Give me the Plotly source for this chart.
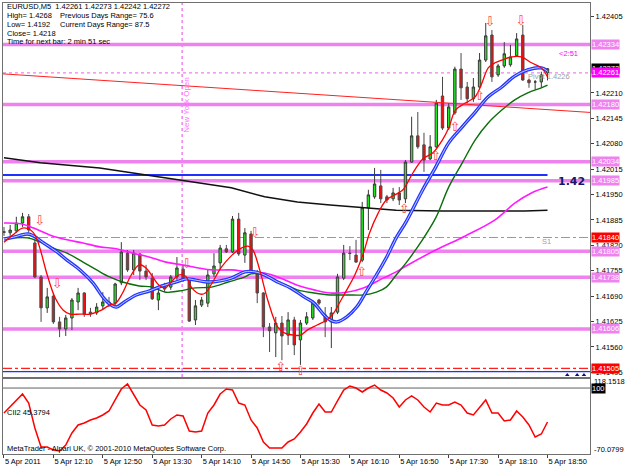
import plotly.graph_objects as go

# ---------------- data ----------------
bar_idx = list(range(89))
opens = [1.41855,1.41852,1.41857,1.41877,1.41893,1.41826,1.41739,1.41660,1.41690,1.41624,
         1.41606,1.41634,1.41675,1.41698,1.41649,1.41647,1.41665,1.41675,1.41672,1.41724,
         1.41800,1.41757,1.41798,1.41754,1.41736,1.41680,1.41716,1.41713,1.41739,1.41759,
         1.41731,1.41629,1.41667,1.41672,1.41747,1.41775,1.41811,1.41803,1.41887,1.41795,
         1.41849,1.41749,1.41698,1.41611,1.41596,1.41621,1.41590,1.41629,1.41578,1.41621,
         1.41634,1.41680,1.41642,1.41624,1.41649,1.41736,1.41800,1.41795,1.41782,1.41916,
         1.41944,1.41972,1.41944,1.41939,1.41954,1.41939,1.42033,1.42100,1.42077,1.42041,
         1.42072,1.42202,1.42120,1.42159,1.42271,1.42225,1.42195,1.42225,1.42294,1.42358,
         1.42256,1.42279,1.42282,1.42305,1.42358,1.42243,1.42238,1.42238,1.42261]
highs = [1.41867,1.41872,1.41893,1.41903,1.41900,1.41834,1.41744,1.41711,1.41698,1.41637,
         1.41642,1.41685,1.41711,1.41700,1.41660,1.41672,1.41700,1.41688,1.41724,1.41828,
         1.41808,1.41808,1.41800,1.41770,1.41749,1.41713,1.41724,1.41744,1.41790,1.41770,
         1.41734,1.41680,1.41688,1.41757,1.41800,1.41821,1.41821,1.41895,1.41903,1.41864,
         1.41857,1.41757,1.41700,1.41621,1.41637,1.41639,1.41649,1.41637,1.41629,1.41649,
         1.41680,1.41683,1.41662,1.41662,1.41747,1.41821,1.41818,1.41834,1.41931,1.41962,
         1.42018,1.42013,1.41949,1.41967,1.41969,1.42038,1.42149,1.42161,1.42108,1.42102,
         1.42192,1.42251,1.42184,1.42277,1.42312,1.42238,1.42248,1.42312,1.42389,1.42371,
         1.42284,1.42340,1.42333,1.42363,1.42384,1.42246,1.42243,1.42264,1.42273]
lows = [1.41844,1.41844,1.41852,1.41867,1.41852,1.41736,1.41624,1.41647,1.41619,1.41585,
        1.41588,1.41603,1.41654,1.41637,1.41637,1.41642,1.41654,1.41662,1.41662,1.41718,
        1.41752,1.41744,1.41731,1.41731,1.41680,1.41654,1.41700,1.41706,1.41731,1.41726,
        1.41624,1.41616,1.41662,1.41662,1.41739,1.41757,1.41800,1.41800,1.41793,1.41775,
        1.41749,1.41672,1.41585,1.41547,1.41534,1.41526,1.41565,1.41539,1.41514,1.41616,
        1.41629,1.41667,1.41585,1.41557,1.41644,1.41731,1.41782,1.41775,1.41777,1.41859,
        1.41939,1.41928,1.41928,1.41933,1.41923,1.41928,1.42031,1.42067,1.42008,1.42038,
        1.42069,1.42115,1.42115,1.42154,1.42192,1.42184,1.42187,1.42220,1.42289,1.42238,
        1.42251,1.42274,1.42277,1.42302,1.42241,1.42223,1.42218,1.42223,1.42242]
closes = [1.41853,1.41859,1.41877,1.41893,1.41859,1.41739,1.41660,1.41688,1.41624,1.41606,
          1.41634,1.41680,1.41698,1.41644,1.41644,1.41662,1.41675,1.41670,1.41721,1.41803,
          1.41757,1.41800,1.41754,1.41739,1.41683,1.41698,1.41708,1.41739,1.41762,1.41731,
          1.41626,1.41665,1.41680,1.41744,1.41767,1.41813,1.41803,1.41887,1.41798,1.41852,
          1.41752,1.41698,1.41611,1.41601,1.41621,1.41588,1.41629,1.41565,1.41621,1.41637,
          1.41672,1.41672,1.41624,1.41647,1.41739,1.41800,1.41799,1.41777,1.41916,1.41949,
          1.41977,1.41939,1.41936,1.41954,1.41936,1.42033,1.42100,1.42072,1.42038,1.42072,
          1.42184,1.42120,1.42174,1.42271,1.42223,1.42195,1.42225,1.42294,1.42356,1.42251,
          1.42279,1.42310,1.42302,1.42348,1.42243,1.42236,1.42238,1.42256,1.42272]

# fast (red) moving average
red_x = [0,1.4,3.0,4.3,5.1,5.9,7.0,8.3,9.6,10.7,12.3,13.9,15.5,17.1,18.1,19.2,20.6,21.9,23.0,24.0,
         25.1,26.1,27.0,28.3,29.4,30.4,31.8,32.6,33.6,35.2,36.8,38.2,39.5,40.3,41.4,42.7,44.3,45.4,
         47.0,48.0,49.1,50.7,52.3,53.4,54.4,55.5,56.8,58.2,59.2,60.6,61.9,63.5,64.6,66.2,67.8,69.4,
         71.0,72.0,73.1,74.7,76.3,77.4,78.4,79.5,80.6,82.2,83.8,85.4,87.0,88.0]
red_y = [1.41828,1.41846,1.41864,1.41859,1.41844,1.41808,1.41744,1.41685,1.41654,1.41644,1.41644,
         1.41644,1.41652,1.41667,1.41672,1.41698,1.41744,1.41770,1.41762,1.41741,1.41718,1.41711,
         1.41724,1.41744,1.41741,1.41711,1.41695,1.41698,1.41721,1.41764,1.41793,1.41811,1.41818,
         1.41808,1.41757,1.41680,1.41611,1.41596,1.41590,1.41590,1.41603,1.41616,1.41629,1.41647,
         1.41675,1.41706,1.41744,1.41800,1.41852,1.41903,1.41936,1.41951,1.41962,1.42005,1.42041,
         1.42056,1.42090,1.42120,1.42166,1.42184,1.42200,1.42236,1.42274,1.42287,1.42294,1.42302,
         1.42302,1.42287,1.42274,1.42251]

# blue moving average (drawn as double line)
blue_x = [0,1.6,3.8,4.8,6.4,8.6,10.2,12.3,14.4,16.0,17.1,18.2,19.5,21.4,23.5,25.6,27.8,29.6,31.0,
          33.1,35.0,36.8,39.0,40.6,42.2,44.3,46.4,48.6,50.2,51.8,52.8,53.9,55.5,57.1,58.7,60.3,61.9,
          63.5,65.1,67.8,69.9,72.0,74.2,76.3,78.4,80.6,82.7,84.8,87.0,88.0]
blue_y = [1.41836,1.41841,1.41849,1.41844,1.41826,1.41803,1.41782,1.41757,1.41724,1.41688,1.41670,
          1.41662,1.41675,1.41693,1.41703,1.41716,1.41726,1.41734,1.41731,1.41726,1.41729,1.41736,
          1.41752,1.41752,1.41744,1.41726,1.41711,1.41688,1.41672,1.41642,1.41629,1.41624,1.41637,
          1.41662,1.41703,1.41744,1.41788,1.41839,1.41880,1.41962,1.42020,1.42082,1.42123,1.42161,
          1.42200,1.42225,1.42253,1.42269,1.42274,1.42266]

# dark green moving average
green_x = [0,3.8,5.9,8.0,10.2,12.8,15.0,17.1,19.2,21.9,24.0,26.2,28.3,31.0,33.6,36.3,39.0,40.0,42.2,
           44.8,47.5,50.2,52.8,55.5,58.2,60.3,61.9,63.5,65.1,67.5,69.9,72.0,74.2,76.3,78.4,80.6,82.7,
           84.8,87.0,88.0]
green_y = [1.41836,1.41839,1.41828,1.41813,1.41800,1.41777,1.41757,1.41739,1.41726,1.41716,1.41713,
           1.41700,1.41703,1.41711,1.41713,1.41726,1.41739,1.41747,1.41744,1.41724,1.41706,1.41698,
           1.41693,1.41693,1.41693,1.41700,1.41713,1.41744,1.41775,1.41828,1.41890,1.41969,1.42031,
           1.42090,1.42133,1.42166,1.42192,1.42210,1.42223,1.42230]

# magenta moving average
mag_x = [0,2.7,4.8,7.5,10.2,12.8,15.5,18.2,20.8,23.5,26.2,28.8,31.5,33.6,36.8,39.5,42.2,44.8,47.5,
         50.2,52.8,55.5,58.2,61.4,63.5,65.1,69.9,74.7,79.5,82.7,85.4,88.0]
mag_y = [1.41877,1.41875,1.41864,1.41846,1.41834,1.41826,1.41816,1.41811,1.41800,1.41790,1.41777,
         1.41770,1.41762,1.41757,1.41757,1.41752,1.41749,1.41736,1.41718,1.41706,1.41698,1.41700,
         1.41711,1.41736,1.41752,1.41767,1.41808,1.41844,1.41885,1.41928,1.41954,1.41969]

# black (slow) moving average
black_x = [0,5.9,15.5,26.2,31.5,36.8,42.2,47.5,52.8,58.2,63.5,71.0,84.3,88.0]
black_y = [1.42044,1.42031,1.42018,1.41992,1.41980,1.41967,1.41944,1.41931,1.41923,1.41916,1.41910,
           1.41908,1.41908,1.41910]

# red trend line
trend_x = [-0.5, 94.9]
trend_y = [1.42259, 1.42160]

# fractal arrows
down_arrow_x = [5.8, 8.6, 29.6, 40.6, 78.7, 83.7]
down_arrow_y = [1.41880, 1.41718, 1.41770, 1.41849, 1.42389, 1.42392]
up_arrow_x = [44.8, 48.0, 57.9, 64.8, 69.9, 73.0, 77.0]
up_arrow_y = [1.41506, 1.41496, 1.41749, 1.41910, 1.42046, 1.42120, 1.42200]

# small markers at the bottom right
tri_x = [91.2, 92.8, 93.9]
tri_y = [1.41488, 1.41488, 1.41488]

# horizontal levels
pivot_levels = [1.42334, 1.42180, 1.42034, 1.41985, 1.41805, 1.41738, 1.41606]
round_level = 1.42000
s1_level = 1.41840
bottom_red_level = 1.41505
bottom_blue_level = 1.41497
bid_level = 1.42261
last_price = 1.42272
ny_open_idx = 28.85

# CCI indicator
cci = [35.6,51.1,69.2,84.6,61.4,-3.0,-52.0,-52.0,-59.8,-62.3,-46.9,-15.9,4.7,9.9,17.6,22.8,30.5,40.8,
       69.2,97.5,110.4,84.6,56.3,43.4,4.7,2.1,4.7,20.2,30.5,27.9,-10.8,-13.4,-10.8,35.6,56.3,84.6,97.5,
       94.9,61.4,56.3,17.6,-3.0,-39.1,-54.6,-54.6,-54.6,-39.1,-31.4,-13.4,7.3,35.6,58.8,38.2,38.2,66.6,
       94.9,105.3,100.1,89.8,100.1,107.8,94.9,87.2,74.3,51.1,69.2,79.5,69.2,51.1,38.2,61.4,56.3,56.3,
       64.0,56.3,35.6,30.5,48.5,69.2,35.6,35.6,15.0,17.6,40.8,25.3,4.7,-26.2,-18.5,12.4]
cci_max = 118.1518
cci_min = -70.0799
cci_level = 100

x_tick_idx = [0, 8, 16, 24, 32, 40, 48, 56, 64, 72, 80, 88]
x_tick_text = ["5 Apr 2011", "5 Apr 12:10", "5 Apr 12:50", "5 Apr 13:30", "5 Apr 14:10",
               "5 Apr 14:50", "5 Apr 15:30", "5 Apr 16:10", "5 Apr 16:50", "5 Apr 17:30",
               "5 Apr 18:10", "5 Apr 18:50"]
# visible scale ticks (1.42275 and 1.42340 are hidden behind price labels)
price_ticks = [1.41495, 1.41560, 1.41625, 1.41690, 1.41755, 1.41820, 1.41885, 1.41950,
               1.42015, 1.42080, 1.42145, 1.42210, 1.42405]

info_lines = ["EURUSD,M5  1.42261 1.42273 1.42242 1.42272",
              "High= 1.4268", "Low= 1.4192", "Close= 1.4218",
              "Time for next bar: 2 min 51 sec"]
info_right = ["Previous Days Range= 75.6", "Current Days Range= 87.5"]

# ---------------- figure ----------------
FONT = "Liberation Sans"
W, H = 625, 469
ML, MR, MT, MB = 2, 29, 3, 15
ph = H - MT - MB


def py(pix):
    return (H - MB - pix) / ph


def px(pix):
    return (pix - ML) / (W - ML - MR)


fig = go.Figure()

fig.add_trace(go.Candlestick(
    x=bar_idx, open=opens, high=highs, low=lows, close=closes,
    increasing=dict(fillcolor="#22e622", line=dict(color="#3a3a3a", width=1)),
    decreasing=dict(fillcolor="#ee1010", line=dict(color="#4a4a4a", width=1)),
    whiskerwidth=0, xaxis="x", yaxis="y", hoverinfo="skip"))

fig.add_trace(go.Scatter(x=black_x, y=black_y, mode="lines",
                         line=dict(color="#111111", width=1.5), xaxis="x", yaxis="y"))
fig.add_trace(go.Scatter(x=mag_x, y=mag_y, mode="lines",
                         line=dict(color="#ff1aff", width=1.6, shape="spline"), xaxis="x", yaxis="y"))
fig.add_trace(go.Scatter(x=green_x, y=green_y, mode="lines",
                         line=dict(color="#0a6e0a", width=1.4, shape="spline"), xaxis="x", yaxis="y"))
fig.add_trace(go.Scatter(x=blue_x, y=blue_y, mode="lines",
                         line=dict(color="#2236ff", width=3.4, shape="spline"), xaxis="x", yaxis="y"))
fig.add_trace(go.Scatter(x=blue_x, y=blue_y, mode="lines",
                         line=dict(color="#d8dcff", width=0.9, shape="spline"), xaxis="x", yaxis="y"))
fig.add_trace(go.Scatter(x=red_x, y=red_y, mode="lines",
                         line=dict(color="#ff0000", width=1.3, shape="spline"), xaxis="x", yaxis="y"))
fig.add_trace(go.Scatter(x=trend_x, y=trend_y, mode="lines",
                         line=dict(color="#ff2020", width=1), xaxis="x", yaxis="y"))

fig.add_trace(go.Scatter(x=down_arrow_x, y=down_arrow_y, mode="text", text=["⇩"] * len(down_arrow_x),
                         textfont=dict(color="#ff4a4a", size=13, family="DejaVu Sans"),
                         xaxis="x", yaxis="y"))
fig.add_trace(go.Scatter(x=up_arrow_x, y=up_arrow_y, mode="text", text=["⇧"] * len(up_arrow_x),
                         textfont=dict(color="#ff4a4a", size=13, family="DejaVu Sans"),
                         xaxis="x", yaxis="y"))
fig.add_trace(go.Scatter(x=tri_x, y=tri_y, mode="markers",
                         marker=dict(symbol="triangle-up", size=4, color="#101070"),
                         xaxis="x", yaxis="y"))

fig.add_trace(go.Scatter(x=bar_idx, y=cci, mode="lines",
                         line=dict(color="#ff0000", width=1.5), xaxis="x2", yaxis="y2"))

shapes = []
for lv in pivot_levels:
    shapes.append(dict(type="line", xref="x domain", yref="y", x0=0, x1=1, y0=lv, y1=lv,
                       line=dict(color="#ee82ee", width=3.5), layer="below"))
shapes.append(dict(type="line", xref="x", yref="y", x0=-0.2, x1=88, y0=round_level, y1=round_level,
                   line=dict(color="#2030ff", width=2), layer="below"))
shapes.append(dict(type="line", xref="x domain", yref="y", x0=0, x1=1, y0=s1_level, y1=s1_level,
                   line=dict(color="#e87878", width=1.2, dash="dashdot"), layer="below"))
shapes.append(dict(type="line", xref="x domain", yref="y", x0=0, x1=1, y0=bottom_blue_level,
                   y1=bottom_blue_level, line=dict(color="#2030ff", width=1.2), layer="below"))
shapes.append(dict(type="line", xref="x domain", yref="y", x0=0, x1=1, y0=bottom_red_level,
                   y1=bottom_red_level, line=dict(color="#ff2020", width=1.2, dash="dashdot"),
                   layer="below"))
shapes.append(dict(type="line", xref="x domain", yref="y", x0=0, x1=1, y0=bid_level, y1=bid_level,
                   line=dict(color="#ee82ee", width=1.2, dash="dot"), layer="below"))
shapes.append(dict(type="line", xref="x", yref="y domain", x0=ny_open_idx, x1=ny_open_idx, y0=0, y1=1,
                   line=dict(color="#ee82ee", width=1.5, dash="dot"), layer="below"))
shapes.append(dict(type="line", xref="x2 domain", yref="y2", x0=0, x1=1, y0=cci_level, y1=cci_level,
                   line=dict(color="#606060", width=1), layer="below"))

ann = []
tf = dict(family=FONT, size=7.5, color="black")
# info text block
ys = [6.7, 15.5, 24.3, 33.2, 42.0]
for t, yy in zip(info_lines, ys):
    ann.append(dict(xref="paper", yref="paper", x=px(4), y=py(yy), text=t, showarrow=False,
                    xanchor="left", yanchor="middle", font=tf))
for t, yy in zip(info_right, ys[1:3]):
    ann.append(dict(xref="paper", yref="paper", x=px(58), y=py(yy), text=t, showarrow=False,
                    xanchor="left", yanchor="middle", font=tf))


# price labels on the right scale
def rlabel(val, bg, fg="white", yref="y", text=None):
    return dict(xref="paper", yref=yref, x=1, y=val, xanchor="left", yanchor="middle", xshift=1,
                text=text if text else f"{val:.5f}", showarrow=False, bgcolor=bg, borderpad=0,
                font=dict(family=FONT, size=7.5, color=fg))


for lv in pivot_levels:
    ann.append(rlabel(lv, "#ee82ee"))
ann.append(rlabel(s1_level, "#ff0000"))
ann.append(rlabel(bottom_red_level, "#ff0000"))
ann.append(rlabel(last_price, "#000000"))
ann.append(rlabel(bid_level, "#ff00ff"))

ann.append(dict(xref="paper", yref="y", x=px(593), y=1.41982, xanchor="right", yanchor="middle",
                text="<b>1.42</b>", showarrow=False,
                font=dict(family="DejaVu Sans", size=11, color="#15156a")))
ann.append(dict(xref="paper", yref="y", x=px(574), y=1.42312, xanchor="center", yanchor="middle",
                text="<2:51", showarrow=False, font=dict(family=FONT, size=7.5, color="#ff00ff")))
ann.append(dict(xref="x", yref="y", x=88.3, y=1.42251, xanchor="center", yanchor="middle",
                text="Pivot 1.4226", showarrow=False, font=dict(family=FONT, size=7.5, color="#a0a0a0")))
ann.append(dict(xref="x", yref="y", x=87.8, y=1.41831, xanchor="center", yanchor="middle",
                text="S1", showarrow=False, font=dict(family=FONT, size=7.5, color="#a0a0a0")))
ann.append(dict(xref="paper", yref="paper", x=px(187), y=py(105), xanchor="center", yanchor="middle",
                text="New York Open", textangle=-90, showarrow=False,
                font=dict(family=FONT, size=8, color="#ff70ff")))

# indicator panel texts
ann.append(dict(xref="paper", yref="paper", x=px(4), y=py(412), xanchor="left", yanchor="middle",
                text="CII2 45.3794", showarrow=False, font=tf))
ann.append(dict(xref="paper", yref="paper", x=px(4), y=py(448), xanchor="left", yanchor="middle",
                text="MetaTrader - Alpari UK, © 2001-2010 MetaQuotes Software Corp.", showarrow=False,
                font=tf))
ann.append(dict(xref="paper", yref="y2", x=1, y=cci_max - 2, xanchor="left", yanchor="middle", xshift=2,
                text=f"{cci_max:.4f}", showarrow=False, font=tf))
ann.append(rlabel(cci_level, "#000000", yref="y2", text=str(cci_level)))
ann.append(dict(xref="paper", yref="y2", x=1, y=cci_min + 12, xanchor="left", yanchor="middle", xshift=2,
                text=f"{cci_min:.4f}", showarrow=False, font=tf))

axis_common = dict(showgrid=False, zeroline=False, showline=True, mirror=True,
                   linecolor="#707070", linewidth=1)

fig.update_layout(
    width=W, height=H, margin=dict(l=ML, r=MR, t=MT, b=MB),
    paper_bgcolor="white", plot_bgcolor="white", showlegend=False,
    font=dict(family=FONT, size=7.5, color="black"),
    boxgap=0.45,
    xaxis=dict(domain=[0, 1], range=[-0.16, 94.88], anchor="y", showticklabels=False,
               rangeslider=dict(visible=False), **axis_common),
    yaxis=dict(domain=[py(377), 1], range=[1.41483, 1.42440], side="right", tickvals=price_ticks,
               tickformat=".5f", ticks="outside", ticklen=3, tickcolor="#404040",
               tickfont=dict(family=FONT, size=7.5, color="black"), **axis_common),
    xaxis2=dict(domain=[0, 1], range=[-0.16, 94.88], anchor="y2", tickvals=x_tick_idx,
                ticktext=x_tick_text, ticks="outside", ticklen=3, tickcolor="#404040",
                ticklabelposition="outside right",
                tickfont=dict(family=FONT, size=7.5, color="black"), **axis_common),
    yaxis2=dict(domain=[0, py(379)], range=[-70.08, 123.3], side="right", anchor="x2",
                showticklabels=False, ticks="", **axis_common),
    shapes=shapes, annotations=ann,
)

fig.write_html("out.html")
